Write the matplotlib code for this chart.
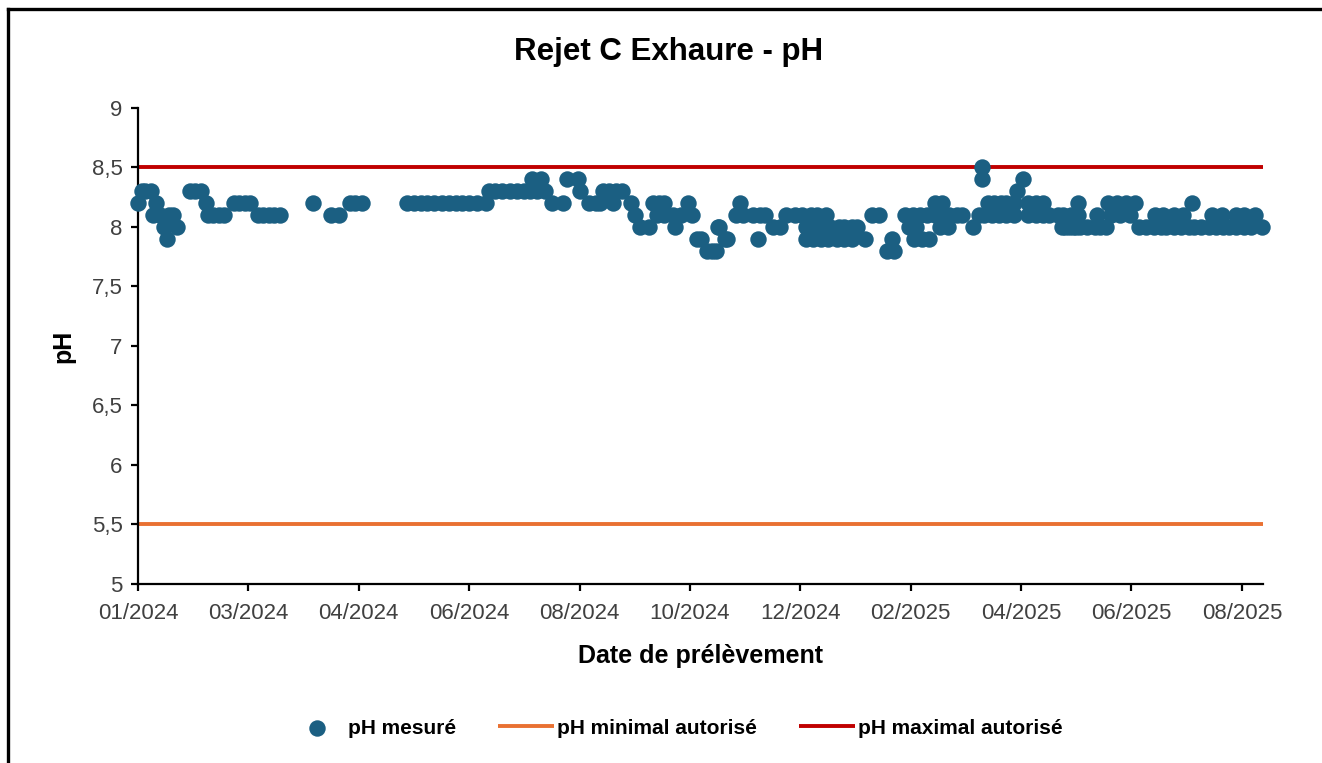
import datetime as dt
import matplotlib.pyplot as plt
import matplotlib.dates as mdates
from matplotlib.lines import Line2D
from matplotlib.ticker import FuncFormatter, MultipleLocator

plt.rcParams['font.family'] = ['Liberation Sans', 'DejaVu Sans']

debut = dt.date(2024, 1, 1)

# jours depuis le 01/01/2024 et pH mesuré correspondant
jours = [0, 2, 4, 7, 8, 10, 12, 14, 16, 17, 19, 21,
         28, 31, 34, 37, 38, 41, 44, 47, 52, 55, 58, 61, 65, 68, 71, 74, 77,
         95, 105, 109, 115, 118, 122,
         146, 150, 154, 157, 161, 165, 169, 173, 176, 180, 184, 189,
         191, 194, 198, 202, 206, 210, 213, 217, 221, 214, 219,
         225, 231, 233, 239, 240, 245, 249, 251, 253, 256, 258, 260, 263,
         268, 270, 273, 278, 280, 282, 283, 286, 286, 291, 292, 295, 299, 301,
         304, 306, 309, 312, 314, 315, 316, 319, 320, 325, 327, 329, 334, 337,
         338, 341, 345, 349,
         352, 357, 361, 363, 363, 366, 367, 368, 369, 371, 372, 374, 375, 376,
         380, 381, 384, 384, 388, 388,
         391, 395, 399, 403, 407, 410, 411, 417, 419, 421, 422, 423, 425, 426,
         429, 430, 433, 433, 436, 437, 437, 440, 441, 445, 448,
         454, 457, 459, 459, 460, 462, 464, 465, 468, 469, 472, 472, 476, 476,
         478, 481, 484, 484, 488, 488, 492, 492, 495, 500, 502, 503,
         504, 506, 507, 508, 510, 511, 511, 512, 516, 520, 521, 523, 526, 527,
         529, 532, 534, 537, 539, 542, 544, 548, 552, 553, 556, 557, 559, 563,
         563, 567, 568, 571, 573, 574, 578, 582, 584, 586, 589, 590, 593, 597,
         597, 601, 601, 605, 607, 611]
ph = [8.2, 8.3, 8.3, 8.3, 8.1, 8.2, 8.1, 8.0, 7.9, 8.1, 8.1, 8.0,
      8.3, 8.3, 8.3, 8.2, 8.1, 8.1, 8.1, 8.1, 8.2, 8.2, 8.2, 8.2, 8.1, 8.1, 8.1, 8.1, 8.1,
      8.2, 8.1, 8.1, 8.2, 8.2, 8.2,
      8.2, 8.2, 8.2, 8.2, 8.2, 8.2, 8.2, 8.2, 8.2, 8.2, 8.2, 8.2,
      8.3, 8.3, 8.3, 8.3, 8.3, 8.3, 8.3, 8.3, 8.3, 8.4, 8.4,
      8.2, 8.2, 8.4, 8.4, 8.3, 8.2, 8.2, 8.2, 8.3, 8.3, 8.2, 8.3, 8.3,
      8.2, 8.1, 8.0, 8.0, 8.2, 8.1, 8.2, 8.2, 8.1, 8.1, 8.0, 8.1, 8.2, 8.1,
      7.9, 7.9, 7.8, 7.8, 7.8, 8.0, 8.0, 7.9, 7.9, 8.1, 8.2, 8.1, 8.1, 7.9,
      8.1, 8.1, 8.0, 8.0,
      8.1, 8.1, 8.1, 8.0, 7.9, 8.1, 7.9, 8.0, 8.1, 7.9, 8.0, 8.1, 7.9, 8.0,
      7.9, 8.0, 8.0, 7.9, 8.0, 7.9,
      8.0, 7.9, 8.1, 8.1, 7.8, 7.9, 7.8, 8.1, 8.0, 8.1, 7.9, 8.0, 8.1, 7.9,
      8.1, 7.9, 8.1, 8.2, 8.0, 8.2, 8.1, 8.0, 8.1, 8.1, 8.1,
      8.0, 8.1, 8.4, 8.5, 8.1, 8.2, 8.1, 8.2, 8.1, 8.2, 8.2, 8.1, 8.2, 8.1,
      8.3, 8.4, 8.2, 8.1, 8.2, 8.1, 8.2, 8.1, 8.1, 8.1, 8.0, 8.1,
      8.0, 8.0, 8.1, 8.0, 8.0, 8.2, 8.1, 8.0, 8.0, 8.0, 8.1, 8.0, 8.0, 8.2,
      8.1, 8.2, 8.1, 8.2, 8.1, 8.2, 8.0, 8.0, 8.0, 8.1, 8.0, 8.1, 8.0, 8.0,
      8.1, 8.0, 8.1, 8.0, 8.2, 8.0, 8.0, 8.0, 8.1, 8.0, 8.1, 8.0, 8.0, 8.0,
      8.1, 8.0, 8.1, 8.0, 8.1, 8.0]

ph_min = 5.5
ph_max = 8.5
fin_axe = 611.5
pas_ticks = 60

dates = [debut + dt.timedelta(days=j) for j in jours]
x0 = mdates.date2num(debut)
x1 = x0 + fin_axe

fig = plt.figure(figsize=(13.22, 7.63), dpi=100)
ax = fig.add_axes([0.1044, 0.2346, 0.8510, 0.6239])

ax.plot([x0, x1], [ph_min, ph_min], color='#E97132', lw=2.8,
        solid_capstyle='butt', label='pH minimal autorisé', zorder=2)
ax.plot([x0, x1], [ph_max, ph_max], color='#C00000', lw=2.8,
        solid_capstyle='butt', label='pH maximal autorisé', zorder=2)
pts = ax.scatter(mdates.date2num(dates), ph, s=140, color='#1B5F82',
                 linewidths=0, label='pH mesuré', zorder=3, clip_on=False)

ax.set_xlim(x0, x1)
ax.set_ylim(5, 9)
ax.xaxis.set_major_formatter(mdates.DateFormatter('%m/%Y'))
ax.set_xticks([x0 + pas_ticks * k for k in range(11)])
ax.yaxis.set_major_locator(MultipleLocator(0.5))
ax.yaxis.set_major_formatter(FuncFormatter(lambda v, p: f'{v:g}'.replace('.', ',')))

for s in ['top', 'right']:
    ax.spines[s].set_visible(False)
for s in ['left', 'bottom']:
    ax.spines[s].set_linewidth(1.6)
ax.tick_params(direction='out', length=5, width=1.6, labelsize=16,
               labelcolor='#404040')
ax.tick_params(axis='x', pad=9)
ax.tick_params(axis='y', pad=6)

fig.text(669 / 1322, 1 - 52 / 763, 'Rejet C Exhaure - pH', fontsize=22.5,
         fontweight='bold', ha='center', va='center')
ax.set_xlabel('Date de prélèvement', fontsize=18, fontweight='bold', labelpad=14)
ax.set_ylabel('pH', fontsize=18, fontweight='bold', labelpad=12)

handles = [pts, ax.lines[0], ax.lines[1]]
fig.legend(handles, [h.get_label() for h in handles], loc='center',
           bbox_to_anchor=(676 / 1322, 1 - 728 / 763), ncol=3, frameon=False,
           scatterpoints=1, handlelength=2.7, handletextpad=0.15,
           columnspacing=2.0, prop={'size': 15, 'weight': 'bold'})

# cadre du graphique
fig.add_artist(Line2D([8 / 1322, 1], [1 - 9 / 763, 1 - 9 / 763],
                      color='black', lw=2.4, transform=fig.transFigure))
fig.add_artist(Line2D([8 / 1322, 8 / 1322], [0, 1 - 9 / 763],
                      color='black', lw=2.4, transform=fig.transFigure))

fig.savefig('out.png', dpi=100)
